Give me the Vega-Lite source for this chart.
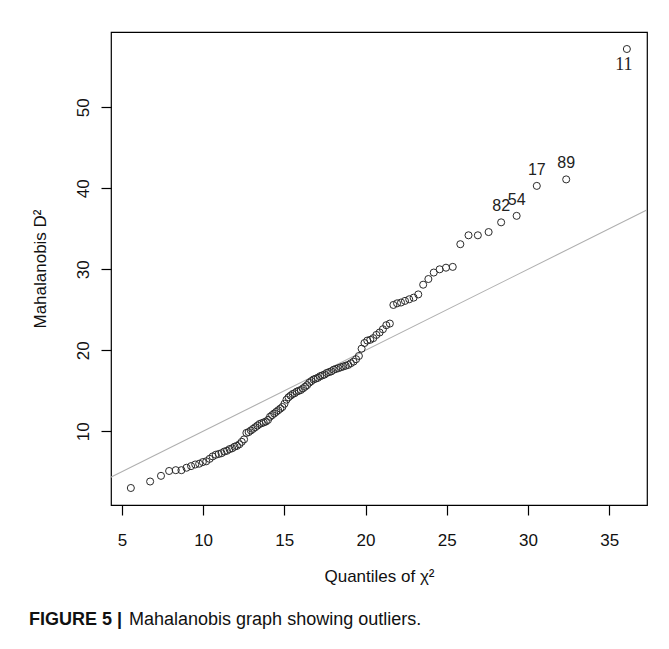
{
  "$schema": "https://vega.github.io/schema/vega-lite/v6.json",
  "width": 536,
  "height": 473,
  "autosize": {"type": "none"},
  "padding": {"left": 111, "top": 32, "right": 22, "bottom": 144},
  "background": "white",
  "config": {
    "view": {"stroke": "#000000", "strokeWidth": 1.2},
    "font": "Liberation Sans"
  },
  "title": {
    "text": "FIGURE 5 |",
    "subtitle": "\u200b\u00a0\u00a0\u00a0\u00a0\u00a0\u00a0\u00a0\u00a0\u00a0\u00a0\u00a0\u00a0\u00a0\u00a0\u00a0\u00a0\u00a0\u00a0\u00a0\u00a0Mahalanobis graph showing outliers.",
    "orient": "bottom",
    "anchor": "start",
    "frame": "group",
    "dx": -82,
    "offset": 27,
    "font": "Liberation Sans",
    "fontSize": 18,
    "fontWeight": "bold",
    "color": "#111111",
    "subtitleFont": "Liberation Sans",
    "subtitleFontSize": 18,
    "subtitleFontWeight": "normal",
    "subtitleColor": "#111111",
    "subtitlePadding": -18
  },
  "datasets": {
    "pts": [
      {"q": 5.552, "d2": 3.0}, {"q": 6.739, "d2": 3.8}, {"q": 7.408, "d2": 4.5}, {"q": 7.908, "d2": 5.1},
      {"q": 8.318, "d2": 5.2}, {"q": 8.666, "d2": 5.2}, {"q": 8.979, "d2": 5.5}, {"q": 9.26, "d2": 5.7},
      {"q": 9.515, "d2": 5.9}, {"q": 9.759, "d2": 6.0}, {"q": 9.982, "d2": 6.2}, {"q": 10.196, "d2": 6.3},
      {"q": 10.401, "d2": 6.6}, {"q": 10.591, "d2": 6.9}, {"q": 10.779, "d2": 7.1}, {"q": 10.961, "d2": 7.2},
      {"q": 11.136, "d2": 7.3}, {"q": 11.304, "d2": 7.5}, {"q": 11.469, "d2": 7.6}, {"q": 11.627, "d2": 7.8},
      {"q": 11.786, "d2": 7.9}, {"q": 11.937, "d2": 8.1}, {"q": 12.085, "d2": 8.2}, {"q": 12.235, "d2": 8.4},
      {"q": 12.38, "d2": 8.7}, {"q": 12.522, "d2": 9.0}, {"q": 12.666, "d2": 9.8}, {"q": 12.805, "d2": 9.9},
      {"q": 12.941, "d2": 10.1}, {"q": 13.077, "d2": 10.3}, {"q": 13.21, "d2": 10.5}, {"q": 13.344, "d2": 10.7},
      {"q": 13.473, "d2": 10.9}, {"q": 13.609, "d2": 11.0}, {"q": 13.734, "d2": 11.1}, {"q": 13.866, "d2": 11.2},
      {"q": 13.994, "d2": 11.4}, {"q": 14.122, "d2": 11.8}, {"q": 14.251, "d2": 12.0}, {"q": 14.377, "d2": 12.2},
      {"q": 14.502, "d2": 12.4}, {"q": 14.628, "d2": 12.6}, {"q": 14.755, "d2": 12.8}, {"q": 14.883, "d2": 13.0},
      {"q": 15.011, "d2": 13.4}, {"q": 15.135, "d2": 13.9}, {"q": 15.26, "d2": 14.2}, {"q": 15.384, "d2": 14.4},
      {"q": 15.51, "d2": 14.6}, {"q": 15.637, "d2": 14.7}, {"q": 15.764, "d2": 14.9}, {"q": 15.892, "d2": 15.0},
      {"q": 16.02, "d2": 15.1}, {"q": 16.15, "d2": 15.3}, {"q": 16.28, "d2": 15.5}, {"q": 16.405, "d2": 15.7},
      {"q": 16.536, "d2": 16.0}, {"q": 16.668, "d2": 16.2}, {"q": 16.801, "d2": 16.4}, {"q": 16.934, "d2": 16.5},
      {"q": 17.068, "d2": 16.6}, {"q": 17.203, "d2": 16.8}, {"q": 17.339, "d2": 16.9}, {"q": 17.474, "d2": 17.0},
      {"q": 17.611, "d2": 17.2}, {"q": 17.749, "d2": 17.3}, {"q": 17.894, "d2": 17.4}, {"q": 18.039, "d2": 17.6},
      {"q": 18.185, "d2": 17.7}, {"q": 18.332, "d2": 17.8}, {"q": 18.479, "d2": 17.9}, {"q": 18.628, "d2": 18.0},
      {"q": 18.783, "d2": 18.1}, {"q": 18.939, "d2": 18.2}, {"q": 19.096, "d2": 18.4}, {"q": 19.261, "d2": 18.6},
      {"q": 19.419, "d2": 18.9}, {"q": 19.592, "d2": 19.3}, {"q": 19.759, "d2": 20.2}, {"q": 19.934, "d2": 20.9},
      {"q": 20.109, "d2": 21.2}, {"q": 20.293, "d2": 21.3}, {"q": 20.477, "d2": 21.5}, {"q": 20.669, "d2": 21.9},
      {"q": 20.869, "d2": 22.2}, {"q": 21.07, "d2": 22.6}, {"q": 21.279, "d2": 23.1}, {"q": 21.497, "d2": 23.3},
      {"q": 21.716, "d2": 25.6}, {"q": 21.943, "d2": 25.8}, {"q": 22.186, "d2": 25.9}, {"q": 22.43, "d2": 26.1},
      {"q": 22.691, "d2": 26.3}, {"q": 22.961, "d2": 26.5}, {"q": 23.247, "d2": 26.9}, {"q": 23.55, "d2": 28.1},
      {"q": 23.87, "d2": 28.8}, {"q": 24.201, "d2": 29.6}, {"q": 24.564, "d2": 30.0}, {"q": 24.954, "d2": 30.2},
      {"q": 25.37, "d2": 30.3}, {"q": 25.837, "d2": 33.1}, {"q": 26.342, "d2": 34.2}, {"q": 26.916, "d2": 34.2},
      {"q": 27.579, "d2": 34.6}, {"q": 28.35, "d2": 35.8, "label": "82"}, {"q": 29.304, "d2": 36.6, "label": "54"},
      {"q": 30.545, "d2": 40.3, "label": "17"}, {"q": 32.355, "d2": 41.1, "label": "89"}, {"q": 36.09, "d2": 57.2, "label": "11"}
    ],
    "ref": [{"q": 0, "d2": 0}, {"q": 40, "d2": 40}]
  },
  "encoding": {
    "x": {
      "field": "q",
      "type": "quantitative",
      "scale": {"domain": [4.33, 37.33], "nice": false, "zero": false},
      "axis": {
        "values": [5, 10, 15, 20, 25, 30, 35],
        "title": "Quantiles of  χ²",
        "domain": false,
        "grid": false,
        "tickSize": 10,
        "tickColor": "#000000",
        "tickWidth": 1.2,
        "labelFont": "Liberation Sans",
        "labelFontSize": 17,
        "labelColor": "#111111",
        "labelPadding": 30,
        "labelBaseline": "alphabetic",
        "labelFlush": false,
        "titleFont": "Liberation Sans",
        "titleFontSize": 17,
        "titleFontWeight": "normal",
        "titleColor": "#111111",
        "titleY": 76,
        "titleBaseline": "alphabetic"
      }
    },
    "y": {
      "field": "d2",
      "type": "quantitative",
      "scale": {"domain": [0.9, 59.3], "nice": false, "zero": false},
      "axis": {
        "values": [10, 20, 30, 40, 50],
        "title": "Mahalanobis D²",
        "domain": false,
        "grid": false,
        "tickSize": 10,
        "tickColor": "#000000",
        "tickWidth": 1.2,
        "labelFont": "Liberation Sans",
        "labelFontSize": 17,
        "labelColor": "#111111",
        "labelAngle": 270,
        "labelAlign": "center",
        "labelBaseline": "alphabetic",
        "labelPadding": 13,
        "labelFlush": false,
        "titleFont": "Liberation Sans",
        "titleFontSize": 17,
        "titleFontWeight": "normal",
        "titleColor": "#111111",
        "titleAngle": 270,
        "titleX": -66,
        "titleBaseline": "alphabetic"
      }
    }
  },
  "layer": [
    {
      "data": {"name": "ref"},
      "mark": {"type": "line", "color": "#b0b0b0", "strokeWidth": 1.1, "clip": true}
    },
    {
      "data": {"name": "pts"},
      "mark": {"type": "point", "shape": "circle", "filled": false, "size": 50, "stroke": "#2a2a2a", "strokeWidth": 1, "opacity": 1}
    },
    {
      "data": {"name": "pts"},
      "transform": [{"filter": {"field": "label", "oneOf": ["17", "89", "82", "54"]}}],
      "mark": {"type": "text", "dy": -16, "baseline": "middle", "align": "center", "font": "Liberation Sans", "fontSize": 16, "color": "#222222"},
      "encoding": {"text": {"field": "label"}}
    },
    {
      "data": {"name": "pts"},
      "transform": [{"filter": {"field": "label", "equal": "11"}}],
      "mark": {"type": "text", "dy": 16, "dx": -3, "baseline": "middle", "align": "center", "font": "Liberation Serif", "fontSize": 18, "color": "#222222"},
      "encoding": {"text": {"field": "label"}}
    }
  ]
}
